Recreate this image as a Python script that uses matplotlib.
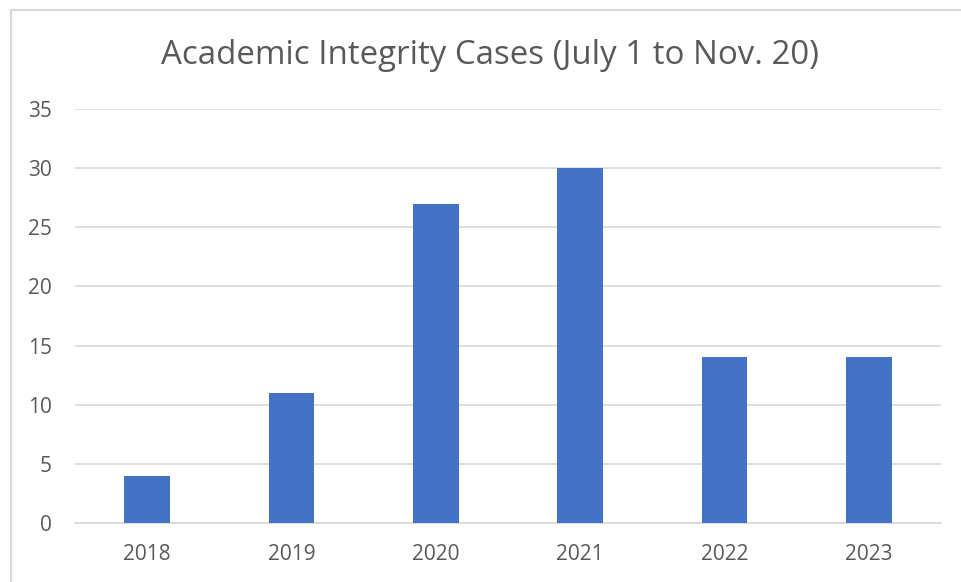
import matplotlib.pyplot as plt
from matplotlib.lines import Line2D

years = ["2018", "2019", "2020", "2021", "2022", "2023"]
cases = [4, 11, 27, 30, 14, 14]
yticks = [0, 5, 10, 15, 20, 25, 30, 35]

W, H = 961, 582
fig = plt.figure(figsize=(W / 100, H / 100), dpi=100)
plt.rcParams["font.family"] = ["Open Sans", "DejaVu Sans"]

# chart frame (only top and left edges visible in the crop)
fig.add_artist(Line2D([11 / W, 11 / W, 1.0], [0.0, 1 - 10 / H, 1 - 10 / H],
                      transform=fig.transFigure, color="#d9d9d9", lw=1.5))

ax = fig.add_axes([75 / W, 1 - 523 / H, (941 - 75) / W, (523 - 109) / H])
x = range(len(years))
ax.bar(x, cases, width=0.318, color="#4472C4", zorder=3)

ax.set_xlim(-0.5, len(years) - 0.5)
ax.set_ylim(0, 35)
ax.set_yticks(yticks)
ax.set_xticks(list(x))
ax.set_xticklabels(years)
ax.yaxis.grid(True, color="#d9d9d9", lw=1.2, zorder=0)
for s in ["top", "right", "left"]:
    ax.spines[s].set_visible(False)
ax.spines["bottom"].set_color("#d9d9d9")
ax.spines["bottom"].set_linewidth(1.2)
ax.tick_params(length=0, labelsize=15, colors="#595959")
ax.tick_params(axis="x", pad=15)
ax.tick_params(axis="y", pad=16.5)

fig.text(490 / W, 1 - 55 / H, "Academic Integrity Cases (July 1 to Nov. 20)",
         ha="center", va="center", fontsize=23.8, color="#595959")

fig.savefig("out.png", dpi=100)
